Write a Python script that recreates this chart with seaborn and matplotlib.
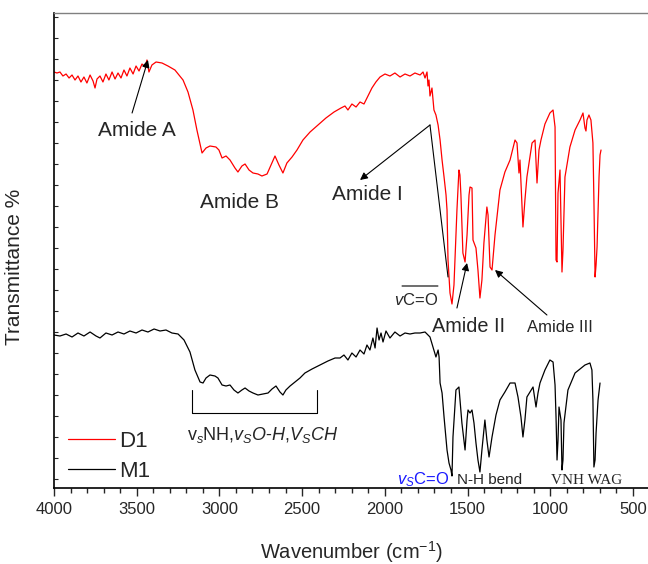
import pandas as pd
import seaborn as sns
import matplotlib.pyplot as plt
from matplotlib.ticker import MultipleLocator

# FTIR spectra (transmittance in arbitrary units)
d1_wn = [4000, 3982, 3964, 3946, 3927, 3909, 3891, 3873, 3855, 3837, 3819, 3801, 3782, 3764, 3752,
         3740, 3722, 3704, 3686, 3668, 3649, 3631, 3613, 3595, 3577, 3559, 3541, 3522, 3504, 3486,
         3468, 3450, 3438, 3426, 3408, 3383, 3347, 3311, 3269, 3220, 3190, 3160, 3136, 3105, 3081,
         3057, 3021, 3003, 2984, 2960, 2936, 2906, 2888, 2864, 2845, 2821, 2797, 2767, 2743, 2712,
         2688, 2664, 2640, 2616, 2592, 2561, 2531, 2495, 2452, 2404, 2356, 2307, 2265, 2241, 2223,
         2199, 2174, 2150, 2126, 2102, 2078, 2054, 2029, 1999, 1969, 1939, 1908, 1878, 1848, 1818,
         1787, 1769, 1757, 1745, 1739, 1733, 1727, 1715, 1703, 1691, 1678, 1666, 1654, 1642, 1630,
         1624, 1618, 1606, 1594, 1582, 1576, 1564, 1552, 1546, 1540, 1528, 1515, 1503, 1491, 1485,
         1473, 1467, 1449, 1437, 1425, 1413, 1401, 1383, 1376, 1364, 1352, 1334, 1304, 1274, 1243,
         1213, 1201, 1189, 1183, 1165, 1153, 1141, 1110, 1092, 1080, 1068, 1056, 1032, 1002, 983,
         971, 965, 959, 953, 941, 929, 923, 911, 881, 850, 820, 802, 790, 784, 778,
         766, 754, 742, 736, 729, 723, 717, 705, 699, 693]
d1_t = [85.6, 85.4, 85.6, 84.8, 85.2, 84.4, 85.0, 84.0, 84.8, 83.6, 84.6, 83.4, 85.0, 83.8, 82.4,
        84.2, 84.8, 83.6, 85.2, 84.0, 85.6, 84.2, 85.4, 84.4, 86.0, 84.8, 86.4, 85.2, 86.8, 85.8,
        87.2, 86.6, 88.0, 85.6, 87.0, 87.6, 87.4, 86.8, 86.0, 84.0, 81.6, 78.0, 74.0, 69.4, 70.4,
        70.8, 70.6, 70.0, 68.4, 68.8, 68.0, 66.4, 65.6, 66.8, 67.2, 66.0, 65.4, 65.2, 64.8, 65.2,
        67.0, 68.8, 67.0, 65.4, 67.4, 68.6, 70.0, 72.0, 73.6, 75.0, 76.4, 77.6, 78.4, 78.8, 78.0,
        79.2, 78.6, 79.6, 79.2, 80.8, 82.4, 83.6, 84.6, 85.2, 84.8, 85.4, 84.6, 85.2, 84.8, 85.4,
        85.0, 85.6, 84.4, 85.6, 82.8, 84.0, 80.8, 82.4, 78.0, 77.0, 75.0, 72.0, 68.0, 64.6, 61.0,
        58.0, 48.0, 41.4, 39.2, 43.0, 48.0, 58.0, 66.0, 65.0, 61.0, 49.4, 47.6, 53.0, 61.0, 62.6,
        62.4, 52.0, 50.4, 46.0, 40.4, 44.0, 51.4, 58.6, 57.0, 46.6, 46.0, 53.0, 62.0, 65.6, 68.0,
        72.0, 71.4, 65.4, 68.0, 54.6, 60.0, 64.6, 71.4, 72.0, 63.4, 70.0, 72.0, 75.2, 77.4, 78.0,
        74.6, 48.0, 47.6, 61.4, 66.0, 45.6, 50.0, 64.6, 70.6, 74.0, 76.0, 77.4, 74.4, 73.8, 76.0,
        77.0, 76.0, 71.4, 60.0, 44.6, 47.0, 50.6, 64.6, 69.0, 70.0]

m1_wn = [4000, 3964, 3927, 3891, 3855, 3819, 3782, 3746, 3722, 3686, 3649, 3613, 3577, 3541, 3504,
         3468, 3432, 3395, 3359, 3323, 3287, 3250, 3214, 3178, 3148, 3117, 3099, 3081, 3057, 3027,
         3009, 2984, 2960, 2936, 2912, 2888, 2864, 2845, 2821, 2797, 2767, 2737, 2706, 2682, 2658,
         2634, 2616, 2598, 2573, 2543, 2513, 2483, 2440, 2392, 2344, 2301, 2271, 2247, 2223, 2199,
         2174, 2150, 2126, 2108, 2090, 2072, 2059, 2047, 2035, 2023, 2011, 1993, 1969, 1939, 1908,
         1878, 1848, 1818, 1787, 1757, 1727, 1709, 1691, 1678, 1672, 1666, 1654, 1642, 1624, 1612,
         1600, 1594, 1588, 1570, 1552, 1534, 1515, 1503, 1497, 1485, 1473, 1461, 1449, 1437, 1425,
         1413, 1395, 1383, 1370, 1352, 1328, 1304, 1274, 1243, 1213, 1195, 1177, 1165, 1153, 1141,
         1104, 1086, 1074, 1062, 1032, 1002, 983, 971, 965, 959, 953, 947, 935, 929, 923,
         917, 893, 850, 820, 790, 760, 748, 742, 736, 729, 723, 711, 699]
m1_t = [33.0, 32.8, 33.2, 32.6, 33.4, 32.8, 33.6, 32.8, 32.4, 33.4, 33.0, 33.6, 33.2, 33.8, 33.4,
        34.0, 33.6, 34.2, 33.8, 34.0, 33.4, 33.2, 32.0, 29.6, 26.0, 23.6, 23.4, 24.4, 25.0, 24.8,
        24.4, 23.0, 22.8, 23.0, 22.0, 21.4, 22.0, 22.4, 21.8, 21.4, 21.0, 21.2, 21.4, 22.2, 22.8,
        21.6, 21.0, 22.0, 22.8, 23.6, 24.4, 25.4, 26.2, 27.0, 27.8, 28.4, 28.4, 29.0, 28.0, 29.4,
        28.6, 30.0, 29.2, 31.0, 30.0, 32.4, 30.4, 34.4, 32.0, 33.4, 31.6, 33.8, 32.4, 33.6, 32.8,
        33.4, 33.2, 33.4, 33.4, 33.6, 32.6, 30.6, 28.6, 30.0, 28.6, 23.4, 21.4, 16.6, 10.0, 7.4,
        6.0, 4.8, 12.6, 22.0, 22.6, 15.4, 10.0, 16.0, 18.0, 17.4, 18.0, 15.4, 11.4, 8.0, 5.6,
        10.0, 16.0, 12.0, 8.6, 12.6, 17.0, 20.0, 21.6, 23.4, 23.4, 20.6, 16.6, 12.6, 16.0, 20.6,
        22.6, 18.6, 21.4, 23.4, 26.0, 28.0, 27.6, 23.0, 16.6, 8.0, 12.0, 18.6, 16.0, 6.0, 8.0,
        15.4, 22.0, 25.4, 26.2, 27.0, 27.4, 26.0, 20.0, 6.6, 8.0, 13.4, 20.0, 23.4]

samples = ['D1', 'M1']
colors = ['red', 'black']
x_ticks = [4000, 3500, 3000, 2500, 2000, 1500, 1000, 500]

sns.set_style('ticks')
plt.rcParams['font.family'] = ['Liberation Sans', 'DejaVu Sans']
plt.rcParams['mathtext.fontset'] = 'custom'
plt.rcParams['mathtext.rm'] = 'Liberation Sans'
plt.rcParams['mathtext.it'] = 'Liberation Sans:italic'
plt.rcParams['mathtext.bf'] = 'Liberation Sans:bold'

df = pd.concat([
    pd.DataFrame({'wavenumber': d1_wn, 'transmittance': d1_t, 'sample': samples[0]}),
    pd.DataFrame({'wavenumber': m1_wn, 'transmittance': m1_t, 'sample': samples[1]}),
])

fig = plt.figure(figsize=(6.48, 5.64), dpi=100)
ax = fig.add_axes([54 / 648, 76 / 564, 594 / 648, 475 / 564])

sns.lineplot(df, x='wavenumber', y='transmittance', hue='sample',
             palette=dict(zip(samples, colors)), sort=False, estimator=None,
             linewidth=0.9, ax=ax)

ax.set_xlim(4000, 409)
ax.set_ylim(2.4, 97.4)
ax.set_xticks(x_ticks)
ax.xaxis.set_minor_locator(MultipleLocator(100))
ax.tick_params(axis='x', which='major', direction='out', length=6, width=1, labelsize=12, pad=4)
ax.tick_params(axis='x', which='minor', direction='out', length=3.5, width=1)
ax.yaxis.set_major_locator(MultipleLocator(4.2))
ax.tick_params(axis='y', which='major', direction='in', length=3, width=0.8, labelleft=False)

for side in ['left', 'bottom']:
    ax.spines[side].set_color('black')
    ax.spines[side].set_linewidth(1.2)
ax.spines['top'].set_visible(True)
ax.spines['top'].set_color('#808080')
ax.spines['top'].set_linewidth(1.0)
ax.spines['right'].set_visible(False)

ax.set_xlabel('Wavenumber (cm$^{-1}$)', fontsize=14.5)
ax.set_ylabel('Transmittance %', fontsize=15)
ax.xaxis.set_label_coords(0.5, -0.108)
ax.yaxis.set_label_coords(-0.05, 0.465)

handles, labels = ax.get_legend_handles_labels()
ax.legend(handles, labels, loc='upper left', bbox_to_anchor=(0.024, 0.12),
          frameon=False, fontsize=16, handlelength=2.1, handletextpad=0.2,
          labelspacing=0.4, borderpad=0, borderaxespad=0)

arrow = dict(arrowstyle='-|>', color='black', lw=0.8, mutation_scale=11, shrinkA=0, shrinkB=0)
line = dict(arrowstyle='-', color='black', lw=0.8, shrinkA=0, shrinkB=0)

ax.text(3498, 74, 'Amide A', fontsize=15, ha='center', va='center')
ax.annotate('', xy=(3432, 88), xytext=(3528, 77.4), arrowprops=arrow)
ax.text(2876, 59.6, 'Amide B', fontsize=15, ha='center', va='center')
ax.text(2108, 61, 'Amide I', fontsize=15, ha='center', va='center')
ax.annotate('', xy=(2150, 64), xytext=(1727, 75), arrowprops=arrow)
ax.annotate('', xy=(1618, 44.6), xytext=(1727, 75), arrowprops=line)
ax.text(1812, 40, '$v$C=O', fontsize=12, ha='center', va='center')
ax.annotate('', xy=(1679, 42.8), xytext=(1896, 42.8), arrowprops=line)
ax.text(1497, 34.6, 'Amide II', fontsize=14.3, ha='center', va='center')
ax.annotate('', xy=(1503, 47.4), xytext=(1564, 38.4), arrowprops=arrow)
ax.text(941, 34.6, 'Amide III', fontsize=12, ha='center', va='center')
ax.annotate('', xy=(1334, 46), xytext=(1020, 37), arrowprops=arrow)

ax.text(1769, 4.0, '$v_S$C=O', fontsize=12, color='#1a1aff', ha='center', va='center')
ax.text(1364, 4.0, 'N-H bend', fontsize=11, ha='center', va='center')
ax.text(778, 4.0, 'VNH WAG', fontsize=11, ha='center', va='center',
        family=['Liberation Serif', 'DejaVu Serif'])

ax.plot([3166, 3166, 2410, 2410], [22, 17.4, 17.4, 22], color='black', lw=0.8)
ax.text(2737, 13, 'v$_s$NH,$v_S$$O$-$H$,$V_S$$CH$', fontsize=13, ha='center', va='center')

fig.savefig('out.png', dpi=100)
